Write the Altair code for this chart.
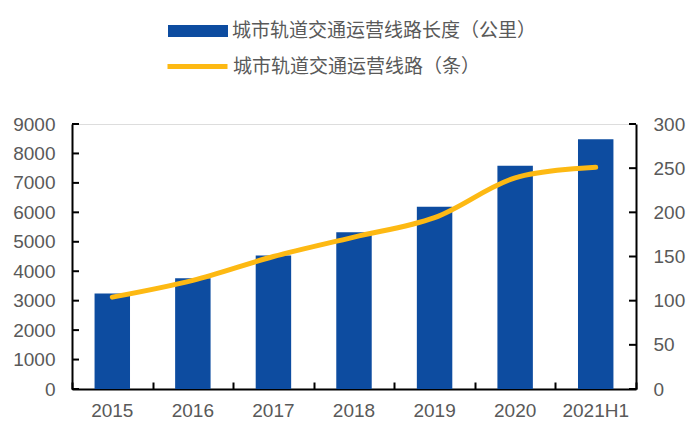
import altair as alt
import pandas as pd

years = ["2015", "2016", "2017", "2018", "2019", "2020", "2021H1"]
length_km = [3240, 3760, 4530, 5320, 6190, 7585, 8480]
line_count = [104, 123, 150, 172, 194, 239, 251]
left_ticks = [0, 1000, 2000, 3000, 4000, 5000, 6000, 7000, 8000, 9000]
right_ticks = [0, 50, 100, 150, 200, 250, 300]
LEG1 = "城市轨道交通运营线路长度（公里）"
LEG2 = "城市轨道交通运营线路（条）"

BLUE = "#0D4CA0"
GOLD = "#FDB913"
GRAY = "#595959"
NUM_FONT = "Liberation Sans"
CJK_FONT = "Noto Sans CJK SC"

W, H = 564, 265

df = pd.DataFrame({"year": years, "length": length_km, "lines": line_count})
df["s1"] = LEG1
df["s2"] = LEG2
lt_df = pd.DataFrame({"v": left_ticks})
rt_df = pd.DataFrame({"v": right_ticks})

xscale = alt.Scale(domain=years, paddingInner=0, paddingOuter=0)
yl_scale = alt.Scale(domain=[0, 9000], nice=False)
yr_scale = alt.Scale(domain=[0, 300], nice=False)

x_bottom = alt.Axis(orient="bottom", title=None, labelAngle=0, ticks=False,
                    domain=True, domainColor="black", domainWidth=2,
                    labelFont=NUM_FONT, labelFontSize=19, labelColor=GRAY,
                    labelPadding=12, grid=False, labelLimit=0)
x_top_ticks = alt.Axis(orient="top", offset=-H, title=None, labels=False,
                       domain=False, ticks=True, tickBand="extent", tickSize=7,
                       tickColor="black", tickWidth=2, grid=False)
yl_axis = alt.Axis(orient="left", title=None, values=left_ticks, ticks=False,
                   domain=True, domainColor="black", domainWidth=2, format="d",
                   labelFont=NUM_FONT, labelFontSize=19, labelColor=GRAY,
                   labelPadding=17, grid=False)
yr_axis = alt.Axis(orient="right", title=None, values=right_ticks, ticks=False,
                   domain=True, domainColor="black", domainWidth=2, format="d",
                   labelFont=NUM_FONT, labelFontSize=19, labelColor=GRAY,
                   labelPadding=17, grid=False)

bars = alt.Chart(df).mark_bar(width=alt.RelativeBandSize(0.44)).encode(
    x=alt.X("year:N", scale=xscale, sort=years, axis=x_bottom),
    y=alt.Y("length:Q", scale=yl_scale, axis=yl_axis),
    fill=alt.Fill("s1:N", scale=alt.Scale(domain=[LEG1], range=[BLUE]),
                  legend=alt.Legend(orient="none", legendX=96, legendY=-123,
                                    title=None, symbolType="M-1,-0.2H1V0.2H-1Z",
                                    symbolSize=3600, symbolStrokeWidth=0,
                                    labelFont=CJK_FONT, labelFontSize=19,
                                    labelColor=GRAY, labelOffset=4, labelLimit=0)),
)
lticks = alt.Chart(lt_df).mark_rule(color="black", strokeWidth=2).encode(
    y=alt.Y("v:Q", scale=yl_scale, axis=yl_axis),
    x=alt.value(0), x2=alt.value(7),
)
left = alt.layer(bars, lticks)

line = alt.Chart(df).mark_line(strokeWidth=5, interpolate="catmull-rom",
                                strokeCap="round").encode(
    x=alt.X("year:N", scale=xscale, sort=years, axis=x_top_ticks),
    y=alt.Y("lines:Q", scale=yr_scale, axis=yr_axis),
    stroke=alt.Stroke("s2:N", scale=alt.Scale(domain=[LEG2], range=[GOLD]),
                      legend=alt.Legend(orient="none", legendX=93, legendY=-90,
                                        title=None, symbolType="stroke",
                                        symbolSize=3600, symbolStrokeWidth=5,
                                        labelFont=CJK_FONT, labelFontSize=19,
                                        labelColor=GRAY, labelOffset=3, labelLimit=0)),
)
rticks = alt.Chart(rt_df).mark_rule(color="black", strokeWidth=2).encode(
    y=alt.Y("v:Q", scale=yr_scale, axis=yr_axis),
    x=alt.value(W), x2=alt.value(W - 7),
)
right = alt.layer(line, rticks)

chart = alt.layer(left, right).resolve_scale(y="independent").resolve_axis(
    x="independent").properties(
    width=W, height=H,
    autosize=alt.AutoSizeParams(type="none"),
    padding={"left": 64, "top": 116, "right": 50, "bottom": 40},
).configure_view(stroke=None).configure(background="white")

chart.save("out.html", embed_options={"renderer": "svg", "actions": False})
